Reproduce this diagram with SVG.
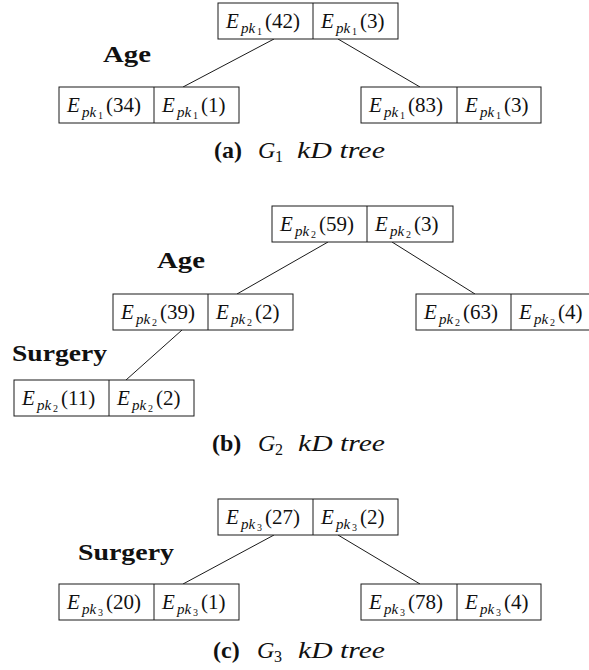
<svg xmlns="http://www.w3.org/2000/svg" width="589" height="670" viewBox="0 0 589 670">
<style>
.bg{fill:#fff}
.box{fill:#fff;stroke:#1a1a1a;stroke-width:1}
.div{stroke:#1a1a1a;stroke-width:1}
.edge{stroke:#1a1a1a;stroke-width:1;fill:none}
.t{font-family:"Liberation Serif",serif;font-size:21px;fill:#111}
.i{font-style:italic}
.s{font-size:15px;font-style:italic}
.ss{font-size:10px;font-style:normal}
.lbl{font-family:"Liberation Serif",serif;font-weight:bold;font-size:23px;fill:#111}
.cap{font-family:"Liberation Serif",serif;font-size:24px;fill:#111}
.b{font-weight:bold}
.sub{font-size:16px;font-style:normal}
</style>
<rect class="bg" x="0" y="0" width="589" height="670"/>

<g id="connectors">
<line class="edge" x1="274" y1="39" x2="183" y2="87"/>
<line class="edge" x1="338" y1="39" x2="420" y2="87"/>
<line class="edge" x1="328" y1="242" x2="237" y2="294"/>
<line class="edge" x1="392" y1="242" x2="475" y2="294"/>
<line class="edge" x1="182" y1="330" x2="126" y2="380"/>
<line class="edge" x1="274" y1="535" x2="183" y2="584"/>
<line class="edge" x1="338" y1="535" x2="420" y2="584"/>
</g>

<!-- (a) -->
<g id="a-root">
<rect class="box" x="218" y="3" width="180" height="36"/>
<line class="div" x1="313" y1="3" x2="313" y2="39"/>
<text class="t" y="28"><tspan class="i" x="226">E</tspan><tspan class="s" x="241" y="33">pk</tspan><tspan class="ss" x="257" y="35">1</tspan><tspan x="265" y="28">(42)</tspan></text>
<text class="t" y="28"><tspan class="i" x="321">E</tspan><tspan class="s" x="336" y="33">pk</tspan><tspan class="ss" x="352" y="35">1</tspan><tspan x="360" y="28">(3)</tspan></text>
</g>
<g id="a-left">
<rect class="box" x="59" y="87" width="180" height="36"/>
<line class="div" x1="154" y1="87" x2="154" y2="123"/>
<text class="t" y="112"><tspan class="i" x="67">E</tspan><tspan class="s" x="82" y="117">pk</tspan><tspan class="ss" x="98" y="119">1</tspan><tspan x="106" y="112">(34)</tspan></text>
<text class="t" y="112"><tspan class="i" x="162">E</tspan><tspan class="s" x="177" y="117">pk</tspan><tspan class="ss" x="193" y="119">1</tspan><tspan x="201" y="112">(1)</tspan></text>
</g>
<g id="a-right">
<rect class="box" x="361" y="87" width="180" height="36"/>
<line class="div" x1="457" y1="87" x2="457" y2="123"/>
<text class="t" y="112"><tspan class="i" x="369">E</tspan><tspan class="s" x="384" y="117">pk</tspan><tspan class="ss" x="400" y="119">1</tspan><tspan x="408" y="112">(83)</tspan></text>
<text class="t" y="112"><tspan class="i" x="465">E</tspan><tspan class="s" x="480" y="117">pk</tspan><tspan class="ss" x="496" y="119">1</tspan><tspan x="504" y="112">(3)</tspan></text>
</g>
<g id="a-labels">
<text class="lbl" x="103" y="62" textLength="48" lengthAdjust="spacingAndGlyphs">Age</text>
<text class="cap" y="158"><tspan class="b" x="214">(a)</tspan><tspan class="i" x="258">G</tspan><tspan class="sub" x="275" y="162">1</tspan><tspan class="i" x="297" y="158" textLength="88" lengthAdjust="spacingAndGlyphs">kD tree</tspan></text>
</g>

<!-- (b) -->
<g id="b-root">
<rect class="box" x="272" y="206" width="181" height="36"/>
<line class="div" x1="367" y1="206" x2="367" y2="242"/>
<text class="t" y="231"><tspan class="i" x="280">E</tspan><tspan class="s" x="295" y="236">pk</tspan><tspan class="ss" x="311" y="238">2</tspan><tspan x="319" y="231">(59)</tspan></text>
<text class="t" y="231"><tspan class="i" x="375">E</tspan><tspan class="s" x="390" y="236">pk</tspan><tspan class="ss" x="406" y="238">2</tspan><tspan x="414" y="231">(3)</tspan></text>
</g>
<g id="b-left">
<rect class="box" x="113" y="294" width="180" height="36"/>
<line class="div" x1="208" y1="294" x2="208" y2="330"/>
<text class="t" y="319"><tspan class="i" x="121">E</tspan><tspan class="s" x="136" y="324">pk</tspan><tspan class="ss" x="152" y="326">2</tspan><tspan x="160" y="319">(39)</tspan></text>
<text class="t" y="319"><tspan class="i" x="216">E</tspan><tspan class="s" x="231" y="324">pk</tspan><tspan class="ss" x="247" y="326">2</tspan><tspan x="255" y="319">(2)</tspan></text>
</g>
<g id="b-right">
<rect class="box" x="416" y="294" width="180" height="36"/>
<line class="div" x1="511" y1="294" x2="511" y2="330"/>
<text class="t" y="319"><tspan class="i" x="424">E</tspan><tspan class="s" x="439" y="324">pk</tspan><tspan class="ss" x="455" y="326">2</tspan><tspan x="463" y="319">(63)</tspan></text>
<text class="t" y="319"><tspan class="i" x="519">E</tspan><tspan class="s" x="534" y="324">pk</tspan><tspan class="ss" x="550" y="326">2</tspan><tspan x="558" y="319">(4)</tspan></text>
</g>
<g id="b-grand">
<rect class="box" x="14" y="380" width="180" height="36"/>
<line class="div" x1="109" y1="380" x2="109" y2="416"/>
<text class="t" y="405"><tspan class="i" x="22">E</tspan><tspan class="s" x="37" y="410">pk</tspan><tspan class="ss" x="53" y="412">2</tspan><tspan x="61" y="405">(11)</tspan></text>
<text class="t" y="405"><tspan class="i" x="117">E</tspan><tspan class="s" x="132" y="410">pk</tspan><tspan class="ss" x="148" y="412">2</tspan><tspan x="156" y="405">(2)</tspan></text>
</g>
<g id="b-labels">
<text class="lbl" x="157" y="268" textLength="48" lengthAdjust="spacingAndGlyphs">Age</text>
<text class="lbl" x="12" y="361" textLength="95" lengthAdjust="spacingAndGlyphs">Surgery</text>
<text class="cap" y="451"><tspan class="b" x="212">(b)</tspan><tspan class="i" x="258">G</tspan><tspan class="sub" x="275" y="455">2</tspan><tspan class="i" x="298" y="451" textLength="87" lengthAdjust="spacingAndGlyphs">kD tree</tspan></text>
</g>

<!-- (c) -->
<g id="c-root">
<rect class="box" x="218" y="499" width="180" height="36"/>
<line class="div" x1="313" y1="499" x2="313" y2="535"/>
<text class="t" y="524"><tspan class="i" x="226">E</tspan><tspan class="s" x="241" y="529">pk</tspan><tspan class="ss" x="257" y="531">3</tspan><tspan x="265" y="524">(27)</tspan></text>
<text class="t" y="524"><tspan class="i" x="321">E</tspan><tspan class="s" x="336" y="529">pk</tspan><tspan class="ss" x="352" y="531">3</tspan><tspan x="360" y="524">(2)</tspan></text>
</g>
<g id="c-left">
<rect class="box" x="59" y="584" width="180" height="36"/>
<line class="div" x1="154" y1="584" x2="154" y2="620"/>
<text class="t" y="609"><tspan class="i" x="67">E</tspan><tspan class="s" x="82" y="614">pk</tspan><tspan class="ss" x="98" y="616">3</tspan><tspan x="106" y="609">(20)</tspan></text>
<text class="t" y="609"><tspan class="i" x="162">E</tspan><tspan class="s" x="177" y="614">pk</tspan><tspan class="ss" x="193" y="616">3</tspan><tspan x="201" y="609">(1)</tspan></text>
</g>
<g id="c-right">
<rect class="box" x="361" y="584" width="180" height="36"/>
<line class="div" x1="457" y1="584" x2="457" y2="620"/>
<text class="t" y="609"><tspan class="i" x="369">E</tspan><tspan class="s" x="384" y="614">pk</tspan><tspan class="ss" x="400" y="616">3</tspan><tspan x="408" y="609">(78)</tspan></text>
<text class="t" y="609"><tspan class="i" x="465">E</tspan><tspan class="s" x="480" y="614">pk</tspan><tspan class="ss" x="496" y="616">3</tspan><tspan x="504" y="609">(4)</tspan></text>
</g>
<g id="c-labels">
<text class="lbl" x="78" y="560" textLength="96" lengthAdjust="spacingAndGlyphs">Surgery</text>
<text class="cap" y="658"><tspan class="b" x="213">(c)</tspan><tspan class="i" x="257">G</tspan><tspan class="sub" x="274" y="662">3</tspan><tspan class="i" x="298" y="658" textLength="87" lengthAdjust="spacingAndGlyphs">kD tree</tspan></text>
</g>
</svg>
